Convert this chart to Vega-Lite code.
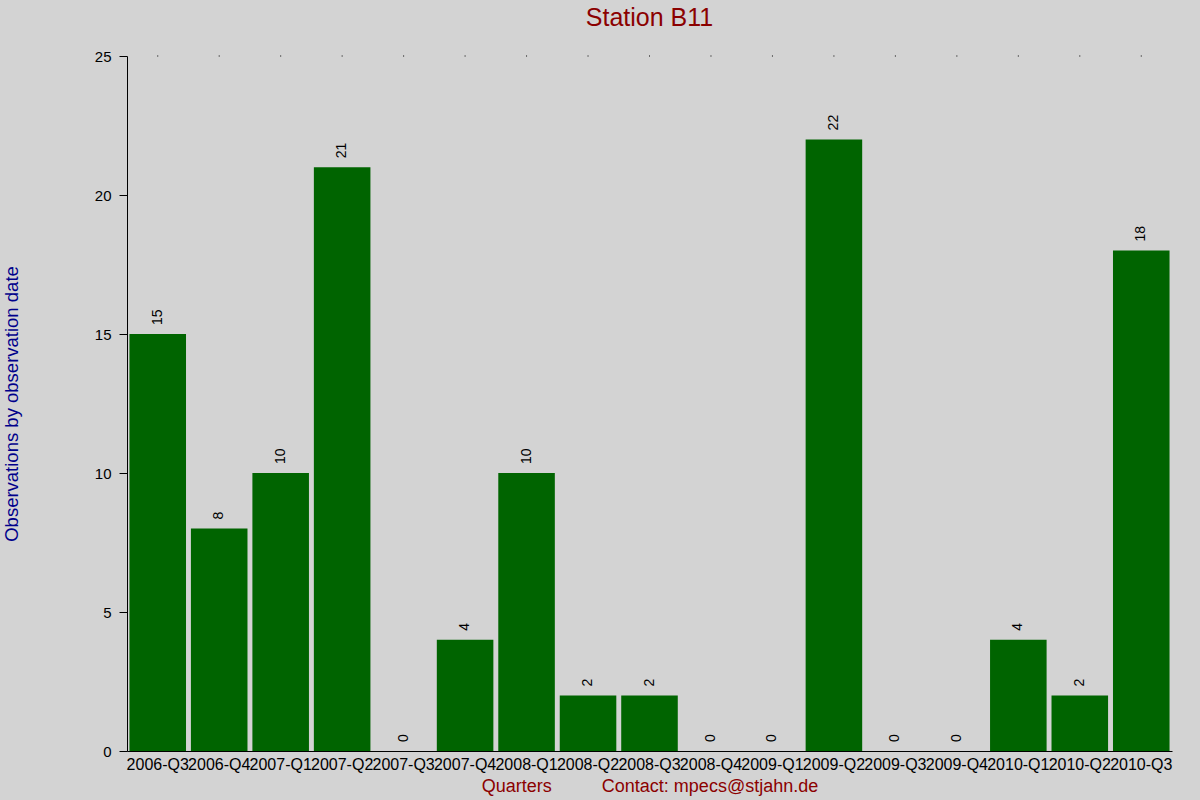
{
  "$schema": "https://vega.github.io/schema/vega-lite/v6.json",
  "width": 1045,
  "height": 695,
  "autosize": {"type": "none"},
  "padding": {"left": 127, "top": 56, "right": 28, "bottom": 49},
  "background": "#D3D3D3",
  "config": {
    "view": {"stroke": null},
    "font": "Liberation Sans",
    "axis": {"grid": false}
  },
  "title": {
    "text": "Station B11",
    "fontSize": 25,
    "fontWeight": "normal",
    "color": "#8B0000",
    "anchor": "middle",
    "offset": 18
  },
  "data": {
    "values": [
      {"quarter": "2006-Q3", "count": 15},
      {"quarter": "2006-Q4", "count": 8},
      {"quarter": "2007-Q1", "count": 10},
      {"quarter": "2007-Q2", "count": 21},
      {"quarter": "2007-Q3", "count": 0},
      {"quarter": "2007-Q4", "count": 4},
      {"quarter": "2008-Q1", "count": 10},
      {"quarter": "2008-Q2", "count": 2},
      {"quarter": "2008-Q3", "count": 2},
      {"quarter": "2008-Q4", "count": 0},
      {"quarter": "2009-Q1", "count": 0},
      {"quarter": "2009-Q2", "count": 22},
      {"quarter": "2009-Q3", "count": 0},
      {"quarter": "2009-Q4", "count": 0},
      {"quarter": "2010-Q1", "count": 4},
      {"quarter": "2010-Q2", "count": 2},
      {"quarter": "2010-Q3", "count": 18}
    ]
  },
  "encoding": {
    "x": {
      "field": "quarter",
      "type": "ordinal",
      "sort": null,
      "scale": {"paddingInner": 0.08, "paddingOuter": 0.04},
      "axis": {
        "title": "Quarters\u00a0\u00a0\u00a0\u00a0\u00a0\u00a0\u00a0\u00a0\u00a0\u00a0Contact: mpecs@stjahn.de",
        "titleFontSize": 18,
        "titleFontWeight": "normal",
        "titleColor": "#8B0000",
        "titlePadding": 5,
        "labelAngle": 0,
        "labelFontSize": 16,
        "labelColor": "black",
        "labelOverlap": false,
        "labelBound": false,
        "labelPadding": 5,
        "ticks": false,
        "domainColor": "black"
      }
    },
    "y": {
      "field": "count",
      "type": "quantitative",
      "scale": {"domain": [0, 25], "nice": false},
      "axis": {
        "title": "Observations by observation date",
        "titleFontSize": 18.5,
        "titleFontWeight": "normal",
        "titleColor": "#00008B",
        "titlePadding": 73,
        "values": [0, 5, 10, 15, 20, 25],
        "labelFontSize": 15,
        "labelColor": "black",
        "tickSize": 8,
        "tickColor": "black",
        "domainColor": "black",
        "labelPadding": 8
      }
    }
  },
  "layer": [
    {
      "mark": {"type": "bar", "color": "#006400"}
    },
    {
      "mark": {
        "type": "text",
        "angle": 270,
        "align": "left",
        "baseline": "middle",
        "dx": 9,
        "fontSize": 14,
        "color": "black"
      },
      "encoding": {
        "text": {"field": "count", "type": "quantitative"}
      }
    },
    {
      "mark": {
        "type": "tick",
        "orient": "vertical",
        "size": 1,
        "thickness": 1,
        "color": "black",
        "opacity": 1
      },
      "encoding": {
        "y": {"datum": 25}
      }
    }
  ]
}
